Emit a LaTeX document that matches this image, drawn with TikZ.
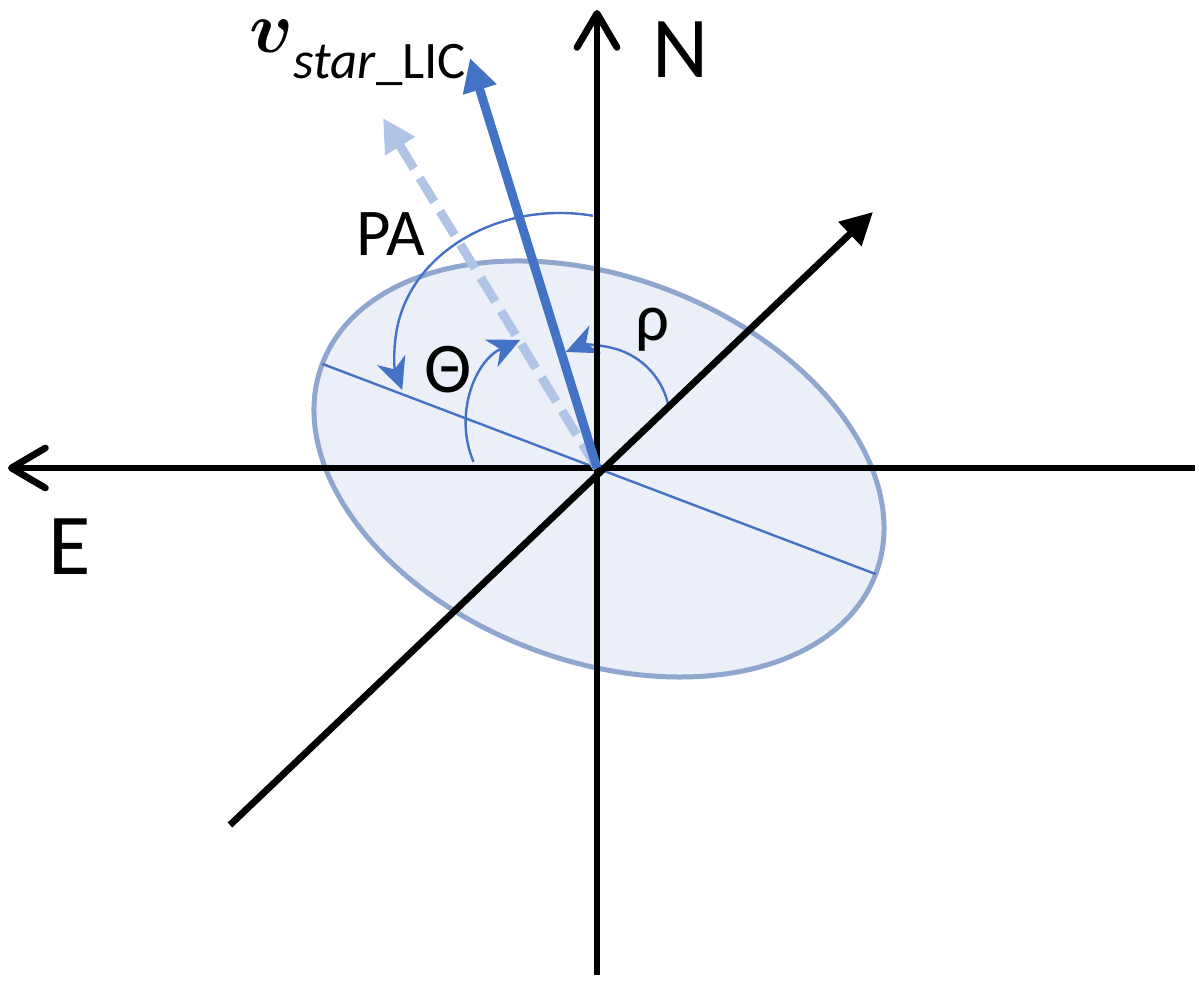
\documentclass[tikz,border=0pt]{standalone}
\usepackage{amsmath,amssymb}
\usepackage{bm}
\usepackage{fontspec}
\setmainfont{Carlito}
\usepackage{tikz}
\usetikzlibrary{arrows.meta,calc,positioning}

\definecolor{vecblue}{RGB}{68,114,196}
\definecolor{oldblue}{RGB}{176,196,230}
\definecolor{ellfill}{RGB}{234,239,248}
\definecolor{ellline}{RGB}{143,167,207}

\begin{document}
\begin{tikzpicture}[
    axis/.style={line width=0.068cm, black},
    axtip/.style={-{Straight Barb[length=0.34cm, width=0.4cm, line cap=round, line join=round]}},
    vec/.style={line width=0.09cm, -{Triangle[length=0.33cm, width=0.33cm]}},
    anglearc/.style={draw=vecblue, line width=0.024cm,
      -{Stealth[length=0.32cm, width=0.3cm, inset=0.1cm]}},
    lbl/.style={inner sep=0pt, font=\fontsize{19}{22}\selectfont},
    dirlbl/.style={inner sep=0pt, font=\fontsize{24.7}{29}\selectfont}
  ]

  \useasboundingbox (-5.97,-5.17) rectangle (6.03,4.68);

  \coordinate (O) at (0,0);
  \coordinate (ellC) at (0.02,-0.01);
  \coordinate (maj1) at ($(ellC)+(159.2:2.96)$);
  \coordinate (maj2) at ($(ellC)+(-20.8:2.96)$);

  \coordinate (east) at (-5.89,0);
  \coordinate (west) at (5.98,0);
  \coordinate (north) at (0,4.58);
  \coordinate (south) at (0,-5.07);
  \coordinate (diag1) at (-3.67,-3.57);
  \coordinate (diag2) at (2.76,2.56);

  \coordinate (vnew) at (-1.27,4.10);
  \coordinate (vold) at (-2.14,3.50);

  % centres of the angle arcs
  \coordinate (paC) at (-0.37,1.18);
  \coordinate (thC) at (-0.37,0.43);
  \coordinate (rhC) at (-0.02,0.47);

  \draw [fill=ellfill, draw=ellline, line width=0.05cm, shift={(ellC)}, rotate=-20.8]
    (0,0) ellipse [x radius=2.96, y radius=1.92];

  \draw [vecblue, line width=0.024cm] (maj1) -- (maj2);

  \draw [anglearc] ([shift={(78.5:1.65 and 1.37)}]paC)
    arc [start angle=78.5, end angle=197, x radius=1.65, y radius=1.37];
  \draw [anglearc] ([shift={(203:0.94)}]thC)
    arc [start angle=203, end angle=115, radius=0.94];
  \draw [anglearc] ([shift={(11:0.75)}]rhC)
    arc [start angle=11, end angle=113, radius=0.75];

  \draw [axis, axtip] (west) -- (east);
  \draw [axis, axtip] (south) -- (north);
  \draw [axis, -{Triangle[length=0.32cm, width=0.32cm]}] (diag1) -- (diag2);

  \draw [vec, oldblue, dash pattern=on 0.28cm off 0.11cm] (O) -- (vold);
  \draw [vec, vecblue] (O) -- (vnew);

  \node [dirlbl] (Nlbl) at (0.84,4.18) {N};
  \node [dirlbl] (Elbl) at (-5.27,-0.79) {E};
  \node [lbl] (palbl) at (-2.06,2.34) {PA};
  \node [lbl, font=\fontsize{20.3}{24}\selectfont] (thlbl) at (-1.49,0.98) {Θ};
  \node [lbl] (rholbl) at (0.55,1.38) {ρ};

  \node [inner sep=0pt, anchor=base west] (vlbl) at (-3.48,4.15)
    {{\fontsize{22}{26}\selectfont$\bm{v}$}\raisebox{-0.26cm}{\fontsize{15}{18}\selectfont\textit{star}\_LIC}};

\end{tikzpicture}
\end{document}
